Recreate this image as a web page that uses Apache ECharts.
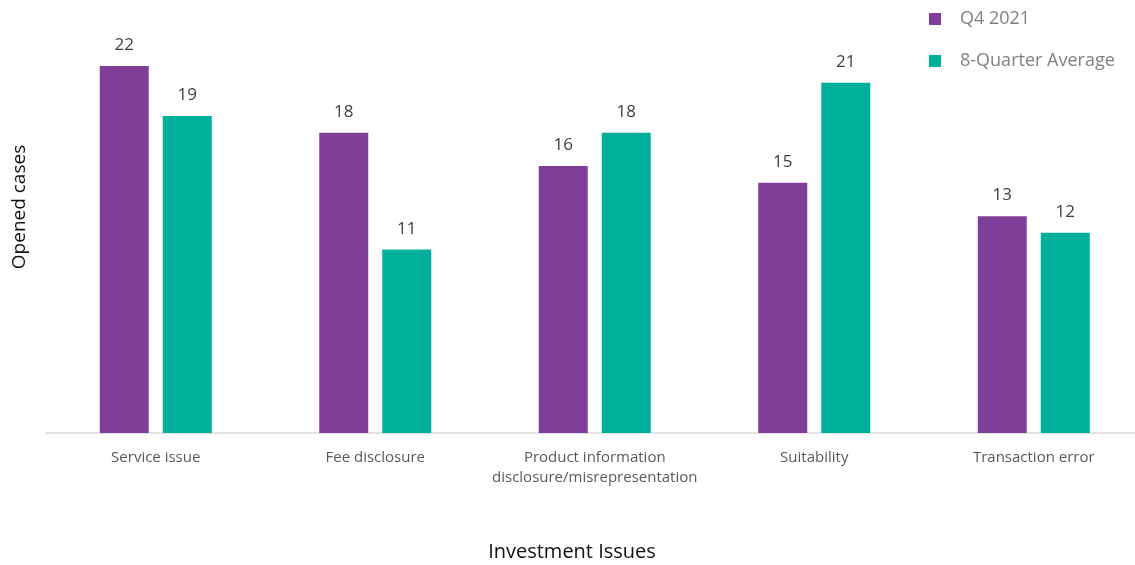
<!DOCTYPE html>
<html>
<head>
<meta charset="utf-8">
<script src="https://cdn.jsdelivr.net/npm/echarts@6/dist/echarts.min.js"></script>
<style>
  html, body { margin: 0; padding: 0; background: #fff; }
  #chart { width: 1135px; height: 565px; }
</style>
</head>
<body>
<div id="chart"></div>
<script>
// Investment issues: opened cases, current quarter vs. 8-quarter average
const categories = [
  'Service issue',
  'Fee disclosure',
  'Product information\ndisclosure/misrepresentation',
  'Suitability',
  'Transaction error'
];
const q4_2021 = [22, 18, 16, 15, 13];
const eightQuarterAvg = [19, 11, 18, 21, 12];

const FONT = '"Open Sans", Lato, sans-serif';
const labelStyle = {
  show: true,
  position: 'top',
  distance: 12,
  fontFamily: FONT,
  fontSize: 17,
  color: '#404040'
};

const chart = echarts.init(document.getElementById('chart'), null, { renderer: 'canvas' });
chart.setOption({
  animation: false,
  backgroundColor: '#ffffff',
  grid: {
    left: 46, width: 1097.5, top: 66, bottom: 132,
    containLabel: false,
    outerBoundsMode: 'none'
  },
  legend: {
    orient: 'vertical',
    left: 924,
    top: 5,
    itemWidth: 12,
    itemHeight: 12,
    itemGap: 24,
    icon: 'rect',
    textStyle: { fontFamily: FONT, fontSize: 18, color: '#808080', padding: [0, 0, 0, 14] },
    data: ['Q4 2021', '8-Quarter Average']
  },
  xAxis: {
    type: 'category',
    data: categories,
    axisLine: { show: true, lineStyle: { color: '#d9d9d9', width: 1.5 } },
    axisTick: { show: false },
    axisLabel: {
      interval: 0,
      margin: 15,
      fontFamily: FONT,
      fontSize: 15,
      lineHeight: 20,
      color: '#595959'
    }
  },
  yAxis: {
    type: 'value',
    min: 0,
    max: 22,
    show: true,
    axisLine: { show: false },
    axisTick: { show: false },
    axisLabel: { show: false },
    splitLine: { show: false }
  },
  graphic: [
    {
      type: 'text',
      rotation: Math.PI / 2,
      x: 20,
      y: 207,
      style: {
        text: 'Opened cases',
        font: '19px ' + FONT,
        fill: '#111',
        textAlign: 'center',
        textVerticalAlign: 'middle'
      }
    },
    {
      type: 'text',
      x: 572,
      y: 552,
      style: {
        text: 'Investment Issues',
        font: '20px ' + FONT,
        fill: '#111',
        textAlign: 'center',
        textVerticalAlign: 'middle'
      }
    }
  ],
  series: [
    {
      name: 'Q4 2021',
      type: 'bar',
      data: q4_2021,
      barWidth: 49,
      barGap: '28.6%',
      itemStyle: { color: '#7f3f98' },
      label: labelStyle
    },
    {
      name: '8-Quarter Average',
      type: 'bar',
      data: eightQuarterAvg,
      barWidth: 49,
      itemStyle: { color: '#00b09b' },
      label: labelStyle
    }
  ]
});
</script>
</body>
</html>
